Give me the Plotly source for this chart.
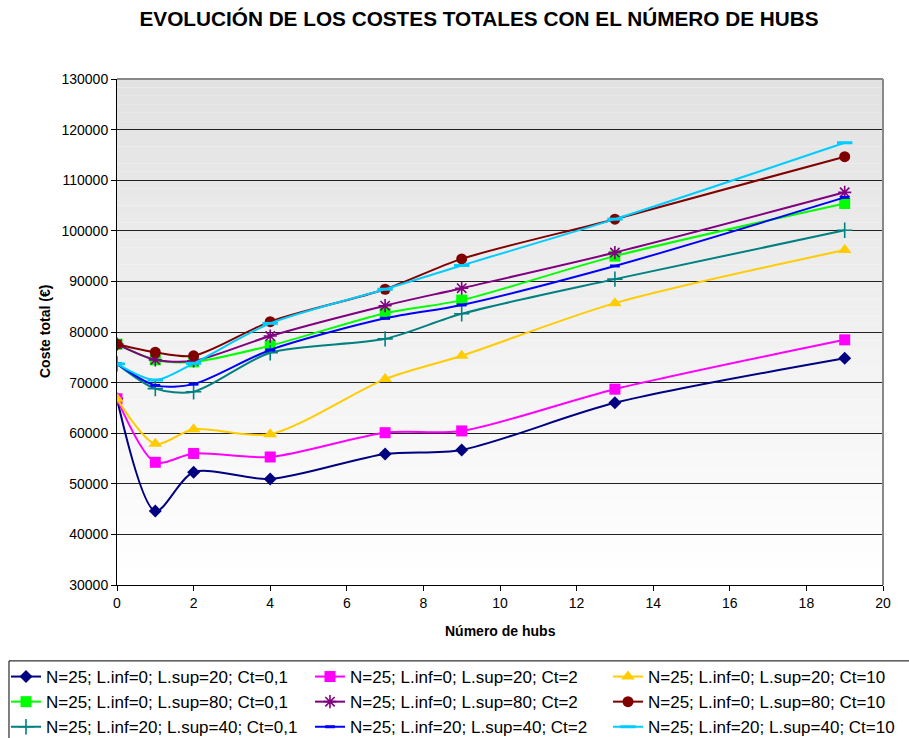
#!/usr/bin/env python
# coding: utf-8

# Evolución de los costes totales con el número de hubs

import plotly.graph_objects as go

# Datos
hubs = [0, 1, 2, 4, 7, 9, 13, 19]

coste_l0_20_ct01 = [66800, 44600, 52300, 50950, 55900, 56700, 66000, 74800]
coste_l0_20_ct2 = [66800, 54250, 56000, 55300, 60100, 60450, 68700, 78450]
coste_l0_20_ct10 = [66800, 57900, 60800, 59800, 70700, 75300, 85700, 96200]
coste_l0_80_ct01 = [77600, 74500, 74100, 77300, 83700, 86300, 95000, 105400]
coste_l0_80_ct2 = [77600, 74500, 74300, 79200, 85200, 88650, 95700, 107600]
coste_l0_80_ct10 = [77600, 76000, 75300, 82050, 88450, 94450, 102300, 114650]
coste_l20_40_ct01 = [73700, 68800, 68200, 75900, 78650, 83600, 90450, 100100]
coste_l20_40_ct2 = [73700, 69450, 69700, 76450, 82700, 85350, 93050, 106600]
coste_l20_40_ct10 = [73700, 70500, 73800, 81700, 88450, 93150, 102300, 117400]

etiquetas = [
    "N=25; L.inf=0; L.sup=20; Ct=0,1",
    "N=25; L.inf=0; L.sup=20; Ct=2",
    "N=25; L.inf=0; L.sup=20; Ct=10",
    "N=25; L.inf=0; L.sup=80; Ct=0,1",
    "N=25; L.inf=0; L.sup=80; Ct=2",
    "N=25; L.inf=0; L.sup=80; Ct=10",
    "N=25; L.inf=20; L.sup=40; Ct=0,1",
    "N=25; L.inf=20; L.sup=40; Ct=2",
    "N=25; L.inf=20; L.sup=40; Ct=10",
]

series = [
    coste_l0_20_ct01, coste_l0_20_ct2, coste_l0_20_ct10,
    coste_l0_80_ct01, coste_l0_80_ct2, coste_l0_80_ct10,
    coste_l20_40_ct01, coste_l20_40_ct2, coste_l20_40_ct10,
]

# Estilo de cada serie: color, símbolo, tamaño, grosor del borde
estilos = [
    ("#000080", "diamond", 10, 0),
    ("#FF00FF", "square", 11, 0),
    ("#FFCC00", "triangle-up", 12, 0),
    ("#00FF00", "square", 11, 0),
    ("#800080", "asterisk-open", 11, 1.6),
    ("#800000", "circle", 11, 0),
    ("#008080", "cross-thin-open", 11, 1.6),
    ("#0000FF", "line-ew-open", 7, 3),
    ("#00CCFF", "line-ew-open", 11, 3),
]

FUENTE = "Arial, Liberation Sans, sans-serif"

fig = go.Figure()

for i, (valores, nombre, est) in enumerate(zip(series, etiquetas, estilos)):
    color, simbolo, tam, borde = est
    leyenda = ["legend", "legend2", "legend3"][i % 3]
    fig.add_trace(
        go.Scatter(
            x=hubs,
            y=valores,
            name=nombre,
            mode="lines+markers",
            line=dict(color=color, width=2, shape="spline", smoothing=0.8),
            marker=dict(
                color=color,
                symbol=simbolo,
                size=tam,
                line=dict(color=color, width=borde),
            ),
            legend=leyenda,
        )
    )

# Fondo degradado del área de trazado (gris arriba, blanco abajo)
n_bandas = 60
for k in range(n_bandas):
    t = k / (n_bandas - 1)
    g = int(round(0xE2 + (0xFF - 0xE2) * t))
    fig.add_shape(
        type="rect",
        xref="x domain",
        yref="y domain",
        x0=0,
        x1=1,
        y0=1 - (k + 1) / n_bandas,
        y1=1 - k / n_bandas,
        fillcolor=f"rgb({g},{g},{g})",
        line=dict(width=0),
        layer="below",
    )

# Bordes superior y derecho en gris
fig.add_shape(type="line", xref="x domain", yref="y domain", x0=0, x1=1, y0=1, y1=1,
              line=dict(color="#888888", width=2), layer="above")
fig.add_shape(type="line", xref="x domain", yref="y domain", x0=1, x1=1, y0=0, y1=1,
              line=dict(color="#888888", width=2), layer="above")

# Recuadro de la leyenda
fig.add_shape(type="rect", xref="paper", yref="paper",
              x0=-0.141, x1=1.06, y0=-0.150, y1=-0.32,
              line=dict(color="black", width=1), fillcolor="white", layer="below")

# Títulos de los ejes
fig.add_annotation(text="<b>Número de hubs</b>", xref="paper", yref="paper",
                   x=0.5, y=(585 - 631) / 506, xanchor="center", yanchor="middle",
                   showarrow=False, font=dict(size=14))
fig.add_annotation(text="<b>Coste total (€)</b>", xref="paper", yref="paper",
                   x=(45 - 117) / 766, y=0.5, xanchor="center", yanchor="middle",
                   textangle=-90, showarrow=False, font=dict(size=14))

# Leyendas en tres columnas (x en papel, y en contenedor)
leg_comun = dict(xref="paper", yref="container", yanchor="top", xanchor="left",
                 font=dict(size=17), bgcolor="rgba(0,0,0,0)", tracegroupgap=0)
leg_y = 1 - 659 / 738

fig.update_layout(
    width=909,
    height=738,
    margin=dict(l=117, r=26, t=79, b=153),
    paper_bgcolor="white",
    plot_bgcolor="white",
    font=dict(family=FUENTE, size=14, color="black"),
    title=dict(
        text="<b>EVOLUCIÓN DE LOS COSTES TOTALES CON EL NÚMERO DE HUBS</b>",
        x=0.527,
        xanchor="center",
        y=1 - 11 / 738,
        yanchor="top",
        font=dict(size=20.75, family=FUENTE, color="black"),
    ),
    xaxis=dict(
        range=[0, 20],
        tickmode="array",
        tickvals=list(range(0, 21, 2)),
        showgrid=False,
        zeroline=False,
        showline=True,
        linecolor="black",
        linewidth=1,
        ticks="outside",
        ticklen=5,
        tickcolor="black",
        automargin=False,
    ),
    yaxis=dict(
        range=[30000, 130000],
        tickmode="array",
        tickvals=list(range(30000, 130001, 10000)),
        ticktext=[str(v) for v in range(30000, 130001, 10000)],
        showgrid=True,
        gridcolor="#222222",
        gridwidth=1,
        zeroline=False,
        showline=True,
        linecolor="black",
        linewidth=1,
        ticks="outside",
        ticklen=5,
        tickcolor="black",
        automargin=False,
    ),
    legend=dict(x=(6 - 117) / 766, y=leg_y, **leg_comun),
    legend2=dict(x=(310 - 117) / 766, y=leg_y, **leg_comun),
    legend3=dict(x=(608 - 117) / 766, y=leg_y, **leg_comun),
    showlegend=True,
)

# Sin margen del body para que la figura empiece en la esquina de la ventana
fig.write_html(
    "out.html",
    config={"displayModeBar": False},
    post_script="document.body.style.margin='0';",
)
